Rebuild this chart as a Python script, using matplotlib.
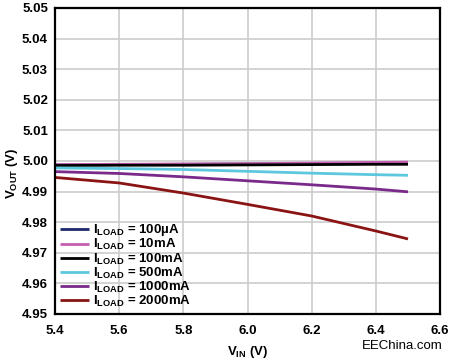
import matplotlib
matplotlib.use("Agg")
import matplotlib.pyplot as plt

plt.rcParams['font.family'] = ['Liberation Sans', 'DejaVu Sans']
plt.rcParams['mathtext.fontset'] = 'custom'
plt.rcParams['mathtext.rm'] = 'Liberation Sans'
plt.rcParams['mathtext.bf'] = 'Liberation Sans:bold'
plt.rcParams['mathtext.it'] = 'Liberation Sans:italic'

vin = [5.4, 5.6, 5.8, 6.0, 6.2, 6.4, 6.5]
v_100uA = [4.9987, 4.9988, 4.9989, 4.9990, 4.9991, 4.9993, 4.9994]
v_10mA = [4.9988, 4.9989, 4.9990, 4.9991, 4.9993, 4.9995, 4.9996]
v_100mA = [4.9985, 4.9986, 4.9986, 4.9987, 4.9988, 4.9989, 4.9989]
v_500mA = [4.9977, 4.9975, 4.9972, 4.9966, 4.9960, 4.9955, 4.9953]
v_1000mA = [4.9965, 4.9959, 4.9948, 4.9935, 4.9922, 4.9908, 4.9899]
v_2000mA = [4.9946, 4.9928, 4.9895, 4.9858, 4.9820, 4.9771, 4.9745]

labels = ['100µA', '10mA', '100mA', '500mA', '1000mA', '2000mA']
series = [v_100uA, v_10mA, v_100mA, v_500mA, v_1000mA, v_2000mA]
colors = ['#1c2a6b', '#c45fb0', '#000000', '#5cc8df', '#7a2a8a', '#8a1414']

xticks = [5.4, 5.6, 5.8, 6.0, 6.2, 6.4, 6.6]
yticks = [4.95, 4.96, 4.97, 4.98, 4.99, 5.00, 5.01, 5.02, 5.03, 5.04, 5.05]

fig = plt.figure(figsize=(4.5, 3.6), dpi=100)
ax = fig.add_axes([0.122, 0.128, 0.856, 0.85])

for lab, vals, c in zip(labels, series, colors):
    ax.plot(vin, vals, color=c, lw=2.0, label=r'$\mathbf{I_{LOAD}}$ = ' + lab, solid_capstyle='butt')

ax.set_xlim(5.4, 6.6)
ax.set_ylim(4.95, 5.05)
ax.set_xticks(xticks)
ax.set_xticklabels([f'{t:.1f}' for t in xticks])
ax.set_yticks(yticks)
ax.set_yticklabels([f'{t:.2f}' for t in yticks])
ax.grid(True, color='#cccccc', lw=1.2)
ax.set_axisbelow(True)
ax.tick_params(length=0, labelsize=9.5)
ax.tick_params(axis='x', pad=8)
ax.tick_params(axis='y', pad=5)
for t in ax.get_xticklabels() + ax.get_yticklabels():
    t.set_fontweight('bold')
for s in ax.spines.values():
    s.set_linewidth(1.6)
    s.set_color('black')

ax.set_xlabel(r'$\mathbf{V_{IN}}$ (V)', fontsize=9.5, fontweight='bold', labelpad=5)
ax.set_ylabel(r'$\mathbf{V_{OUT}}$ (V)', fontsize=9.5, fontweight='bold')
ax.yaxis.label.set_va('center')
ax.yaxis.set_label_coords(-0.112, 0.46)

leg = ax.legend(loc='lower left', frameon=False, fontsize=9.5, handlelength=2.2,
                handletextpad=0.3, labelspacing=-0.08, borderaxespad=0.0,
                bbox_to_anchor=(0.0, 0.0))
for t in leg.get_texts():
    t.set_fontweight('bold')

fig.text(0.984, 0.04, 'EEChina.com', ha='right', va='center', fontsize=9.5,
         family=['Liberation Sans'])

fig.savefig('out.png', dpi=100)
